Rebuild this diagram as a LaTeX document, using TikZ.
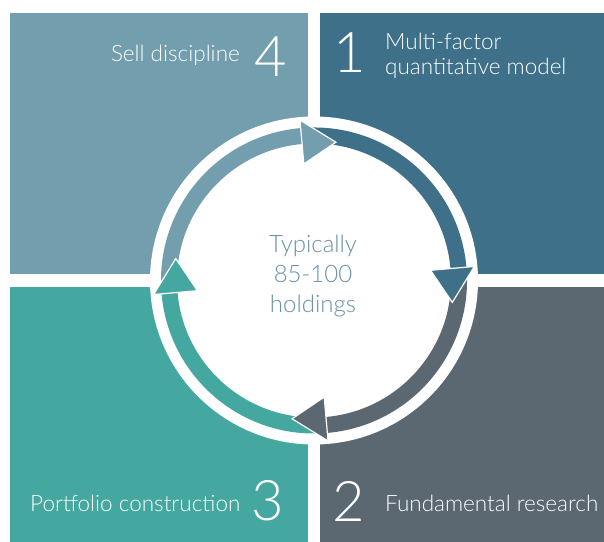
\documentclass[tikz,border=0pt]{standalone}
\usepackage{fontspec}
\setmainfont{Lato Light}
\usetikzlibrary{calc}
\definecolor{cfour}{HTML}{729EAD}
\definecolor{cone}{HTML}{3E7089}
\definecolor{ctwo}{HTML}{5B6771}
\definecolor{cthree}{HTML}{44A8A0}
\definecolor{ctext}{HTML}{6A92A6}
\tikzset{
  panel/.style={draw=none, inner sep=0pt, anchor=south west},
  label/.style={inner sep=0pt, text=white, font=\fontsize{22.5bp}{26bp}\selectfont},
  digit/.style={inner sep=0pt, text=white, font=\fontsize{56bp}{60bp}\selectfont},
  band/.style={line width=16bp},
  head/.style={draw=white, line width=1.2bp, line join=miter},
}
\begin{document}
\begin{tikzpicture}[x=1bp,y=1bp]
\useasboundingbox (0,0) rectangle (604,542);
% panels
\node[panel, fill=cfour, minimum width=298bp, minimum height=261bp] (p4) at (10,268) {};
\node[panel, fill=cone, minimum width=284bp, minimum height=261bp] (p1) at (320,268) {};
\node[panel, fill=cthree, minimum width=298bp, minimum height=255bp] (p3) at (10,0) {};
\node[panel, fill=ctwo, minimum width=284bp, minimum height=255bp] (p2) at (320,0) {};
% white disc
\coordinate (C) at (314,261.5);
\node[circle, fill=white, inner sep=0pt, minimum size=328bp] (disc) at (C) {};
% bands
\draw[band, cfour] (C) ++(185:145) arc[start angle=185, end angle=95, radius=145];
\draw[band, cone] (C) ++(95:145) arc[start angle=95, end angle=5, radius=145];
\draw[band, ctwo] (C) ++(5:145) arc[start angle=5, end angle=-85, radius=145];
\draw[band, cthree] (C) ++(-85:145) arc[start angle=-85, end angle=-175, radius=145];
% heads
\foreach \t/\c in {81/cfour, -9/cone, -99/ctwo, 171/cthree}{
  \pgfmathsetmacro{\b}{\t+14}
  \filldraw[head, fill=\c] ($(C)+(\b:117)$) -- ($(C)+(\b:161)$) -- ($(C)+(\t:140)$) -- cycle;
}
% center text
\node[inner sep=0pt, text=ctext, font=\fontsize{24bp}{30bp}\selectfont, align=center] (ctr) at (313,266) {Typically\\85-100\\holdings};
% labels
\node[label, anchor=base east] (t4) at (240,480) {Sell discipline};
\node[digit, anchor=base east] (n4) at (287,465) {4};
\node[digit, anchor=base west] (n1) at (333,469) {1};
\node[label, anchor=base west] (t1a) at (385,492) {Multi-factor};
\node[label, anchor=base west] (t1b) at (385,467) {quantitative model};
\node[digit, anchor=base east] (n3) at (284,21) {3};
\node[label, anchor=base west] (t3) at (30,30) {Portfolio construction};
\node[digit, anchor=base west] (n2) at (332,20) {2};
\node[label, anchor=base west] (t2) at (385,30) {Fundamental research};
\end{tikzpicture}
\end{document}
